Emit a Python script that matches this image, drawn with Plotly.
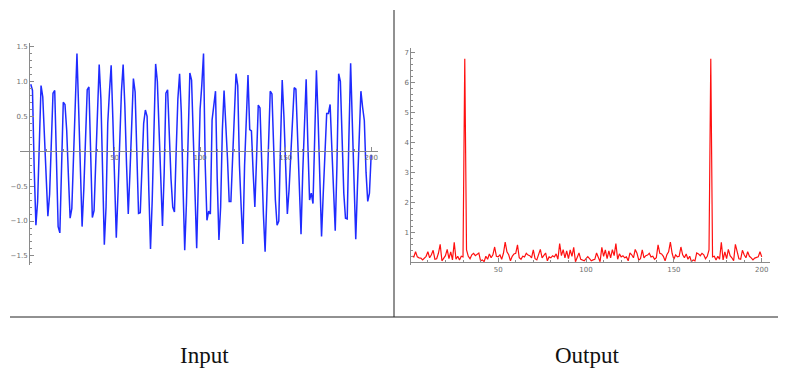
import plotly.graph_objects as go

# ---- data ----
input_values = [
    0.96, 0.87, -0.25, -1.06, -0.72, 0.15, 0.94, 0.78, 0.15, -0.35,
    -0.93, -0.62, 0.05, 0.83, 0.87, -0.05, -1.08, -1.17, -0.25, 0.70,
    0.67, 0.30, -0.35, -0.96, -0.82, -0.10, 0.75, 1.40, 0.60, -0.45,
    -1.08, -0.55, 0.10, 0.88, 0.92, -0.10, -0.95, -0.85, -0.20, 0.70,
    1.24, 0.75, -0.20, -1.34, -0.80, 0.40, 0.85, 1.23, 0.45, -0.35,
    -1.24, -0.60, 0.30, 0.85, 1.24, 0.65, -0.20, -0.90, -0.30, 0.50,
    1.04, 0.85, -0.15, -0.89, -0.88, -0.25, 0.40, 0.59, 0.50, -0.55,
    -1.40, -0.70, 0.10, 1.25, 1.00, 0.20, -0.60, -1.07, -0.30, 0.83,
    0.88, 0.20, -0.40, -0.80, -0.87, 0.00, 0.75, 1.11, 0.56, -0.50,
    -1.42, -0.75, 0.30, 1.12, 1.02, 0.20, -0.85, -1.39, -0.40, 0.60,
    0.95, 1.40, -0.20, -0.99, -0.86, -0.90, 0.45, 0.70, 0.86, -0.40,
    -1.27, -0.80, 0.30, 0.87, 0.45, -0.10, -0.72, -0.72, -0.10, 0.60,
    1.11, 0.94, -0.20, -0.80, -1.33, -0.20, 0.60, 1.09, 0.31, 0.29,
    -0.30, -0.80, -0.10, 0.66, 0.62, -0.20, -0.90, -1.44, -0.60, 0.20,
    0.86, 0.82, 0.00, -0.70, -1.06, -1.00, 0.10, 1.02, 0.50, -0.20,
    -0.90, -0.55, 0.00, 0.60, 0.91, 0.89, 0.10, -0.60, -1.19, -0.30,
    0.50, 1.03, 0.10, -0.70, -0.60, -0.75, 0.20, 1.16, 0.45, -0.45,
    -1.22, -0.60, 0.00, 0.54, 0.54, 0.67, 0.05, -0.60, -1.14, -0.20,
    1.11, 1.00, 0.10, -0.60, -0.96, -0.97, 0.20, 1.26, 0.40, -0.40,
    -1.26, -0.50, 0.30, 0.86, 0.63, 0.44, -0.30, -0.72, -0.60, -0.05,
]

output_values = [
    0.20, 0.18, 0.35, 0.18, 0.15, 0.14, 0.08, 0.15, 0.20, 0.35,
    0.15, 0.25, 0.40, 0.10, 0.12, 0.30, 0.60, 0.05, 0.15, 0.22,
    0.43, 0.12, 0.35, 0.08, 0.67, 0.10, 0.20, 0.08, 0.20, 0.18,
    6.78, 0.41, 0.20, 0.12, 0.25, 0.30, 0.22, 0.28, 0.31, 0.05,
    0.08, 0.02, 0.20, 0.10, 0.28, 0.15, 0.25, 0.51, 0.20, 0.18,
    0.25, 0.10, 0.30, 0.67, 0.35, 0.25, 0.05, 0.20, 0.28, 0.30,
    0.58, 0.15, 0.10, 0.20, 0.18, 0.30, 0.24, 0.22, 0.15, 0.41,
    0.12, 0.08, 0.30, 0.43, 0.15, 0.25, 0.31, 0.05, 0.18, 0.15,
    0.22, 0.18, 0.28, 0.10, 0.62, 0.22, 0.42, 0.15, 0.38, 0.12,
    0.41, 0.20, 0.50, 0.02, 0.15, 0.31, 0.10, 0.08, 0.05, 0.12,
    0.19, 0.12, 0.05, 0.08, 0.10, 0.31, 0.15, 0.02, 0.50, 0.20,
    0.41, 0.12, 0.38, 0.15, 0.42, 0.22, 0.62, 0.10, 0.28, 0.18,
    0.22, 0.15, 0.18, 0.05, 0.31, 0.25, 0.15, 0.43, 0.30, 0.08,
    0.12, 0.41, 0.15, 0.22, 0.24, 0.30, 0.18, 0.20, 0.10, 0.15,
    0.58, 0.30, 0.28, 0.20, 0.05, 0.25, 0.35, 0.67, 0.30, 0.10,
    0.25, 0.18, 0.20, 0.51, 0.25, 0.15, 0.28, 0.10, 0.20, 0.02,
    0.08, 0.05, 0.31, 0.28, 0.22, 0.30, 0.25, 0.12, 0.20, 0.41,
    6.78, 0.18, 0.20, 0.08, 0.20, 0.10, 0.67, 0.08, 0.35, 0.12,
    0.43, 0.22, 0.15, 0.05, 0.60, 0.30, 0.12, 0.10, 0.40, 0.25,
    0.15, 0.35, 0.20, 0.15, 0.08, 0.14, 0.15, 0.18, 0.35, 0.18,
]

sample_index = list(range(1, 201))
x_tick_values = [50, 100, 150, 200]
input_tick_values = [-1.5, -1.0, -0.5, 0.5, 1.0, 1.5]
output_tick_values = [1, 2, 3, 4, 5, 6, 7]
panel_titles = ["Input", "Output"]

W, H = 788, 376
def px(X):
    return X / W
def py(Y):
    return 1 - Y / H

AXIS_COLOR = "#8a8a8a"
TICK_FONT = dict(family="DejaVu Sans", size=7, color="#6e6e6e")

fig = go.Figure()
fig.add_trace(go.Scatter(x=sample_index, y=input_values, mode="lines",
                         line=dict(color="#1f2bff", width=1.5),
                         xaxis="x", yaxis="y", showlegend=False, hoverinfo="skip"))
fig.add_trace(go.Scatter(x=sample_index, y=output_values, mode="lines",
                         line=dict(color="#ff1010", width=1.2),
                         xaxis="x2", yaxis="y2", showlegend=False, hoverinfo="skip"))

common_x = dict(showgrid=False, zeroline=False, showline=True, linecolor=AXIS_COLOR,
                linewidth=1, ticks="inside", ticklen=4, tickcolor=AXIS_COLOR,
                tickfont=TICK_FONT, tickvals=x_tick_values,
                minor=dict(ticks="inside", ticklen=2, tickcolor=AXIS_COLOR, dtick=10, tick0=0,
                           showgrid=False),
                fixedrange=True)
common_y = dict(showgrid=False, zeroline=False, showline=True, linecolor=AXIS_COLOR,
                linewidth=1, ticks="inside", ticklen=4, tickcolor=AXIS_COLOR,
                tickfont=TICK_FONT, fixedrange=True)

# left panel: origin at X=29, Y=151 ; 1.711 px/unit in x, 70 px/unit in y
fig.update_layout(
    xaxis=dict(common_x, domain=[px(20), px(378)], range=[-5.3, 204],
               anchor="free", position=py(151)),
    yaxis=dict(common_y, domain=[py(265), py(43)], range=[-1.63, 1.55],
               anchor="free", position=px(29),
               tickvals=input_tick_values,
               ticktext=["\u22121.5", "\u22121.0", "\u22120.5", "0.5", "1.0", "1.5"],
               minor=dict(ticks="inside", ticklen=2, tickcolor=AXIS_COLOR, dtick=0.1, tick0=0,
                          showgrid=False)),
    xaxis2=dict(common_x, domain=[px(410.3), px(770)], range=[0, 204.7],
                anchor="free", position=py(262.3)),
    yaxis2=dict(common_y, domain=[py(265), py(48)], range=[-0.09, 7.14],
                anchor="free", position=px(410.3),
                tickvals=output_tick_values,
                minor=dict(ticks="inside", ticklen=2, tickcolor=AXIS_COLOR, dtick=0.2, tick0=0,
                           showgrid=False)),
)

fig.update_layout(
    width=W, height=H, margin=dict(l=0, r=0, t=0, b=0),
    paper_bgcolor="white", plot_bgcolor="rgba(0,0,0,0)",
    shapes=[
        dict(type="line", xref="paper", yref="paper", x0=px(394), x1=px(394),
             y0=py(10), y1=py(317), line=dict(color="#222", width=1)),
        dict(type="line", xref="paper", yref="paper", x0=px(10), x1=px(778),
             y0=py(317), y1=py(317), line=dict(color="#222", width=1)),
    ],
    annotations=[
        dict(text=panel_titles[0], xref="paper", yref="paper", x=px(204), y=py(355),
             xanchor="center", yanchor="middle", showarrow=False,
             font=dict(family="Liberation Serif", size=23, color="#111")),
        dict(text=panel_titles[1], xref="paper", yref="paper", x=px(587), y=py(355),
             xanchor="center", yanchor="middle", showarrow=False,
             font=dict(family="Liberation Serif", size=23, color="#111")),
    ],
)

fig.write_html("out.html", config={"displayModeBar": False},
               post_script="document.body.style.margin='0';document.body.style.overflow='hidden';")
